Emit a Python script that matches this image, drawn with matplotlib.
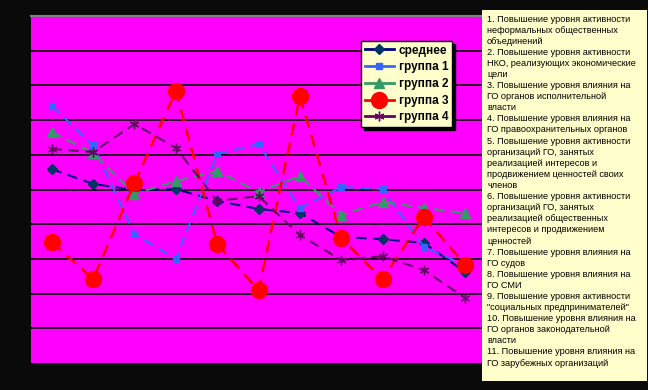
import matplotlib.pyplot as plt
from matplotlib.lines import Line2D

plt.rcParams['font.family'] = ['Liberation Sans', 'DejaVu Sans']

# 11 indicators on x, score on y (0..10)
positions = list(range(1, 12))
series_names = ["среднее", "группа 1", "группа 2", "группа 3", "группа 4"]
avg_vals = [5.59, 5.16, 4.99, 5.01, 4.67, 4.44, 4.32, 3.63, 3.57, 3.46, 2.62]
group1_vals = [7.41, 6.28, 3.72, 3.00, 6.02, 6.31, 4.47, 5.07, 5.01, 3.34, 2.82]
group2_vals = [6.66, 6.05, 4.87, 5.24, 5.53, 4.93, 5.39, 4.27, 4.64, 4.47, 4.32]
group3_vals = [3.49, 2.42, 5.19, 7.84, 3.43, 2.10, 7.69, 3.60, 2.42, 4.21, 2.82]
group4_vals = [6.17, 6.08, 6.89, 6.20, 4.67, 4.81, 3.69, 2.97, 3.08, 2.68, 1.87]

notes = [
    "1. Повышение уровня активности",
    "неформальных общественных",
    "объединений",
    "2. Повышение уровня активности",
    "НКО, реализующих экономические",
    "цели",
    "3. Повышение уровня влияния на",
    "ГО органов исполнительной",
    "власти",
    "4. Повышение уровня влияния на",
    "ГО правоохранительных органов",
    "5. Повышение уровня активности",
    "организаций ГО, занятых",
    "реализацией интересов и",
    "продвижением ценностей своих",
    "членов",
    "6. Повышение уровня активности",
    "организаций ГО, занятых",
    "реализацией общественных",
    "интересов и продвижением",
    "ценностей",
    "7. Повышение уровня влияния на",
    "ГО судов",
    "8. Повышение уровня влияния на",
    "ГО СМИ",
    "9. Повышение уровня активности",
    "\"социальных предпринимателей\"",
    "10. Повышение уровня влияния на",
    "ГО органов законодательной",
    "власти",
    "11. Повышение уровня влияния на",
    "ГО зарубежных организаций",
]

styles = [
    dict(color="#000080", marker="D", ms=5, mfc="#003366", mec="#003366", lw=1.5),
    dict(color="#3366FF", marker="s", ms=5, mfc="#3366FF", mec="#3366FF", lw=1.5),
    dict(color="#339966", marker="^", ms=7, mfc="#339966", mec="#339966", lw=1.5),
    dict(color="#FF0000", marker="o", ms=11.5, mfc="#FF0000", mec="#FF0000", lw=1.8),
    dict(color="#660066", marker=(6, 2, 0), ms=7, mfc="#660066", mec="#660066", lw=1.5),
]

fig = plt.figure(figsize=(6.48, 3.90), dpi=100)
fig.patch.set_facecolor("#0A0A0A")

ax = fig.add_axes([31 / 648, 1 - 363 / 390, 455 / 648, 347 / 390])
ax.set_facecolor("#FF00FF")

all_vals = [avg_vals, group1_vals, group2_vals, group3_vals, group4_vals]
for vals, st in zip(all_vals, styles):
    ax.plot(positions, vals, linestyle=(0, (5, 3)), color=st["color"], lw=st["lw"],
            marker=st["marker"], ms=st["ms"], mfc=st["mfc"], mec=st["mec"])

ax.set_xlim(0.5, 11.5)
ax.set_ylim(0, 10)
ax.set_yticks(range(1, 10))
ax.set_xticks([])
ax.tick_params(left=False, labelleft=False)
ax.yaxis.grid(True, color="black", lw=1.2)
ax.set_axisbelow(True)
for side in ["left", "right", "bottom"]:
    ax.spines[side].set_visible(False)
ax.spines["top"].set_color("#808080")
ax.spines["top"].set_linewidth(1.5)

handles = [Line2D([], [], color=st["color"], lw=2, marker=st["marker"],
                  ms=st["ms"], mfc=st["mfc"], mec=st["mec"]) for st in styles]
leg = fig.legend(handles, series_names, loc="upper left",
                 bbox_to_anchor=(361 / 648, 1 - 41 / 390),
                 prop={"weight": "bold", "size": 8.5}, facecolor="#FFFFCC",
                 edgecolor="black", framealpha=1, fancybox=False,
                 shadow={"color": "black", "alpha": 1},
                 handlelength=2.5, handletextpad=0.4, labelspacing=0.4,
                 borderpad=0.3, borderaxespad=0)
leg.get_frame().set_linewidth(1)

# notes box on the right
box = fig.add_axes([482 / 648, 1 - 381 / 390, 165 / 648, 371 / 390])
box.set_facecolor("#FFFFCC")
box.set_xticks([])
box.set_yticks([])
for s in box.spines.values():
    s.set_visible(False)
top_y = 1 - 19 / 390
step = 11.1 / 390
for i, line in enumerate(notes):
    fig.text(487 / 648, top_y - i * step, line, fontsize=6.6, va="center",
             ha="left", color="black")

fig.savefig("out.png", dpi=100, facecolor=fig.get_facecolor())
